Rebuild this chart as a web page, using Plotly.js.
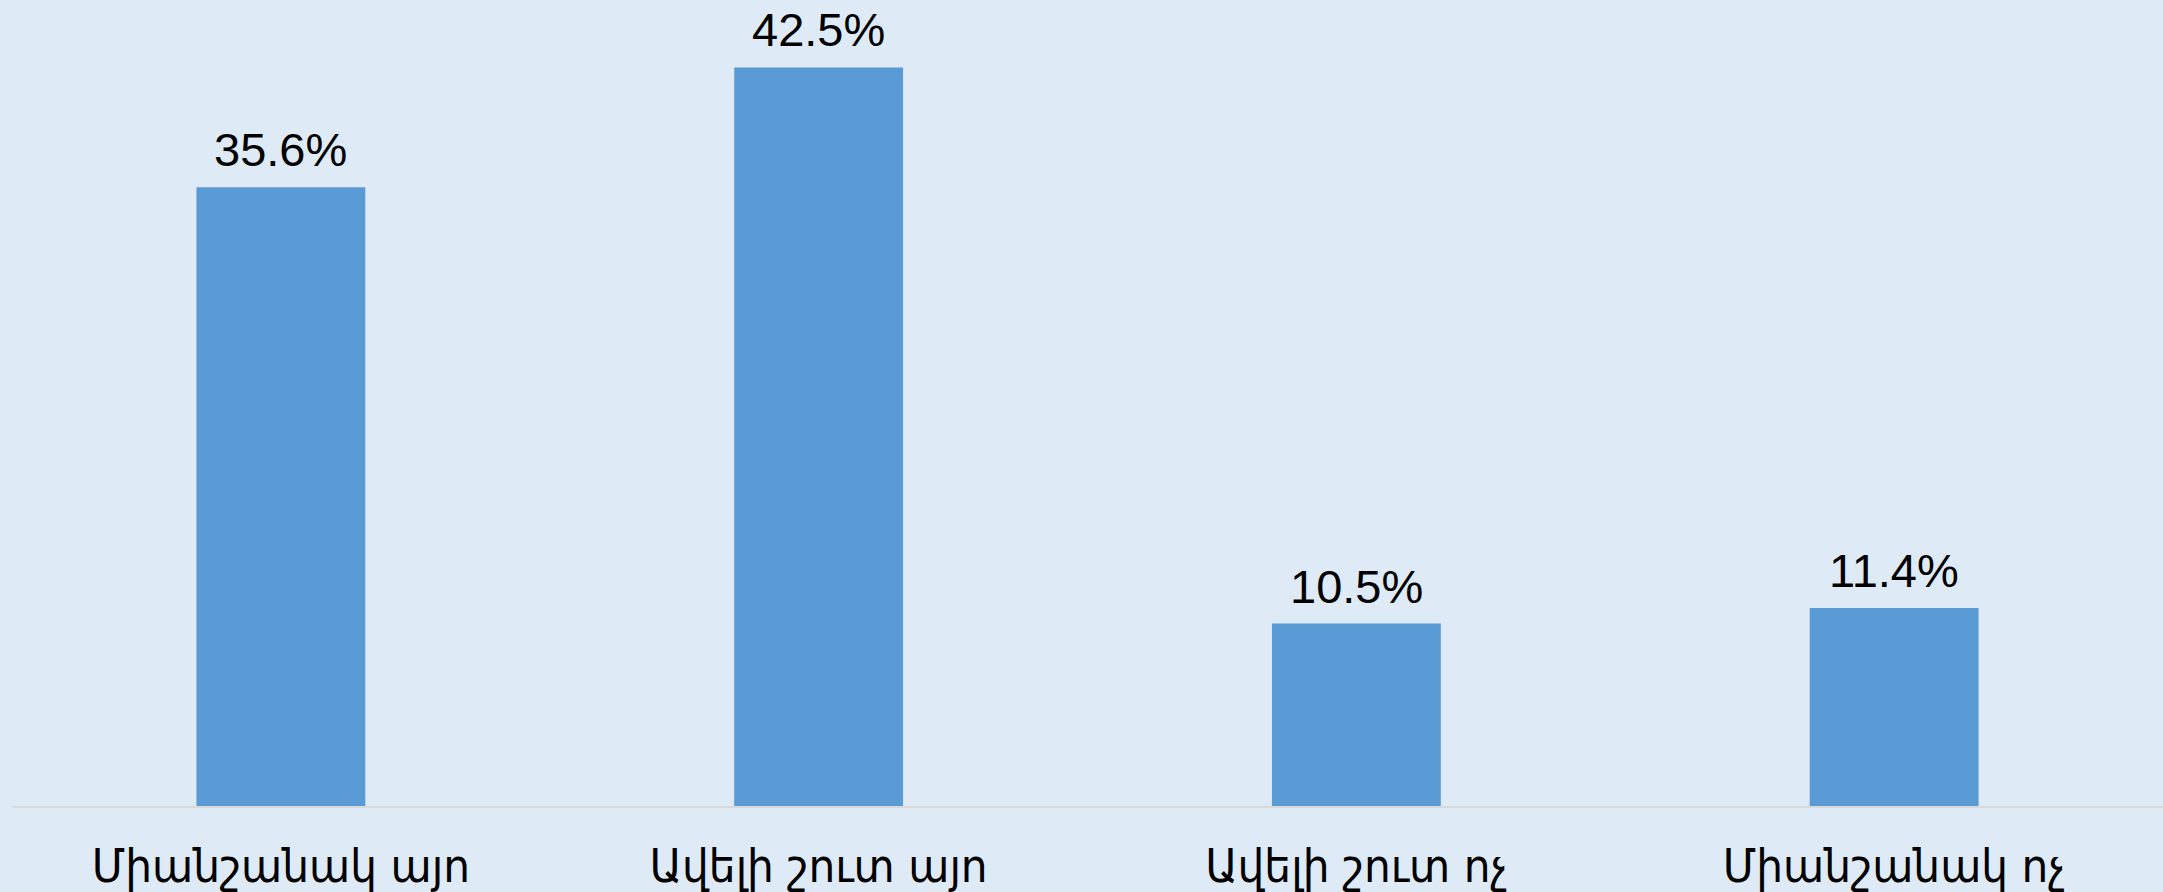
<!DOCTYPE html>
<html>
<head>
<meta charset="utf-8">
<script src="https://cdn.plot.ly/plotly-3.0.1.min.js"></script>
<style>
html,body{margin:0;padding:0;background:#DEEAF6;}
#chart{width:2163px;height:892px;}
</style>
</head>
<body>
<div id="chart"></div>
<script>
const categories = ["Միանշանակ այո", "Ավելի շուտ այո", "Ավելի շուտ ոչ", "Միանշանակ ոչ"];
const values = [35.6, 42.5, 10.5, 11.4];
const valueLabels = ["35.6%", "42.5%", "10.5%", "11.4%"];

const fontFamily = "Liberation Sans, Arial, DejaVu Sans, sans-serif";
const catFont = "DejaVu Sans Condensed, DejaVu Sans, sans-serif";

const trace = {
  type: "bar",
  x: categories,
  y: values,
  cliponaxis: false,
  marker: {color: "#5B9BD5"},
  hoverinfo: "none"
};

const annotations = categories.map((c, i) => ({
  x: c,
  y: values[i],
  xref: "x",
  yref: "y",
  text: valueLabels[i],
  showarrow: false,
  xanchor: "center",
  yanchor: "bottom",
  yshift: 9,
  font: {family: fontFamily, size: 47, color: "#000000"}
}));

const layout = {
  width: 2163,
  height: 892,
  paper_bgcolor: "#DEEAF6",
  plot_bgcolor: "#DEEAF6",
  margin: {l: 12, r: 0, t: 0, b: 86},
  bargap: 0.686,
  showlegend: false,
  font: {family: fontFamily, color: "#000000"},
  annotations: annotations,
  xaxis: {
    type: "category",
    showline: true,
    linecolor: "#D9D9D9",
    linewidth: 2,
    showgrid: false,
    zeroline: false,
    ticks: "outside",
    ticklen: 18,
    tickcolor: "rgba(0,0,0,0)",
    tickfont: {family: catFont, size: 47, color: "#000000"},
    automargin: false
  },
  yaxis: {
    range: [0, 46.38],
    visible: false,
    showgrid: false,
    zeroline: false,
    fixedrange: true
  }
};

Plotly.newPlot("chart", [trace], layout, {staticPlot: true, displayModeBar: false});
</script>
</body>
</html>
